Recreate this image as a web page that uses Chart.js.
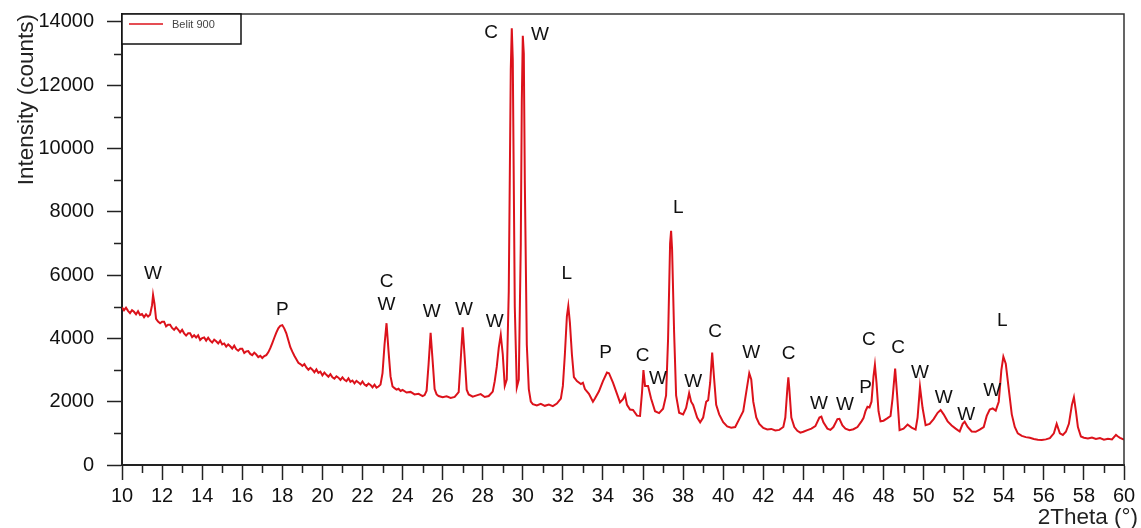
<!DOCTYPE html>
<html>
<head>
<meta charset="utf-8">
<script src="https://cdn.jsdelivr.net/npm/chart.js@4.4.1/dist/chart.umd.min.js"></script>
<style>
  html, body { margin: 0; padding: 0; background: #fff; }
  #wrap { width: 1141px; height: 528px; position: relative; }
</style>
</head>
<body>
<div id="wrap"><canvas id="xrdChart"></canvas></div>
<script>
// diffraction pattern (2theta in degrees, counts)
const twoTheta = [
  10.0, 10.1, 10.2, 10.3, 10.4, 10.5, 10.6, 10.7, 10.8, 10.9,
  11.0, 11.1, 11.2, 11.3, 11.4, 11.5, 11.55, 11.62, 11.7, 11.8, 11.9,
  12.0, 12.1, 12.2, 12.3, 12.4, 12.5, 12.6, 12.7, 12.8, 12.9,
  13.0, 13.1, 13.2, 13.3, 13.4, 13.5, 13.6, 13.7, 13.8, 13.9,
  14.0, 14.1, 14.2, 14.3, 14.4, 14.5, 14.6, 14.7, 14.8, 14.9,
  15.0, 15.1, 15.2, 15.3, 15.4, 15.5, 15.6, 15.7, 15.8, 15.9,
  16.0, 16.1, 16.2, 16.3, 16.4, 16.5, 16.6, 16.7, 16.8, 16.9,
  17.0, 17.1, 17.2, 17.3, 17.4, 17.5, 17.6, 17.7, 17.8, 17.9,
  18.0, 18.1, 18.2, 18.3, 18.4, 18.5, 18.6, 18.7, 18.8, 18.9,
  19.0, 19.1, 19.2, 19.3, 19.4, 19.5, 19.6, 19.7, 19.8, 19.9,
  20.0, 20.1, 20.2, 20.3, 20.4, 20.5, 20.6, 20.7, 20.8, 20.9,
  21.0, 21.1, 21.2, 21.3, 21.4, 21.5, 21.6, 21.7, 21.8, 21.9,
  22.0, 22.1, 22.2, 22.3, 22.4, 22.5, 22.6, 22.7, 22.8, 22.9,
  23.0, 23.1, 23.2, 23.3, 23.4, 23.5, 23.6, 23.7, 23.8, 23.9,
  24.0, 24.2, 24.4, 24.6, 24.8, 25.0, 25.1, 25.2, 25.3, 25.4,
  25.5, 25.6, 25.7, 25.8, 26.0, 26.2, 26.4, 26.6, 26.8, 26.9,
  27.0, 27.1, 27.2, 27.3, 27.5, 27.7, 27.9, 28.1, 28.3, 28.5,
  28.6, 28.7, 28.8, 28.9, 29.0, 29.1, 29.2, 29.3, 29.4, 29.45,
  29.5, 29.6, 29.7, 29.8, 29.9, 29.95, 30.0, 30.05, 30.1, 30.2,
  30.3, 30.4, 30.5, 30.7, 30.9, 31.1, 31.3, 31.5, 31.7, 31.9,
  32.0, 32.1, 32.2, 32.27, 32.35, 32.45, 32.55, 32.7, 32.9, 33.0,
  33.1, 33.3, 33.5, 33.6, 33.8, 34.0, 34.2, 34.3, 34.5, 34.7,
  34.85, 35.0, 35.1, 35.2, 35.35, 35.5, 35.7, 35.85, 35.95, 36.02,
  36.1, 36.25, 36.4, 36.6, 36.8, 37.0, 37.15, 37.25, 37.35, 37.4,
  37.45, 37.55, 37.65, 37.8, 38.0, 38.15, 38.3, 38.4, 38.5, 38.7,
  38.85, 39.0, 39.15, 39.25, 39.35, 39.45, 39.55, 39.65, 39.8, 40.0,
  40.2, 40.4, 40.6, 40.8, 41.0, 41.15, 41.3, 41.4, 41.5, 41.65,
  41.8, 42.0, 42.2, 42.4, 42.6, 42.8, 43.0, 43.1, 43.2, 43.25,
  43.3, 43.4, 43.55, 43.7, 43.85, 44.0, 44.2, 44.4, 44.6, 44.8,
  44.9, 45.0, 45.2, 45.35, 45.5, 45.7, 45.8, 45.95, 46.1, 46.3,
  46.5, 46.7, 46.9, 47.0, 47.1, 47.2, 47.3, 47.4, 47.5, 47.57,
  47.65, 47.75, 47.85, 48.0, 48.2, 48.35, 48.45, 48.58, 48.68, 48.8,
  49.0, 49.2, 49.4, 49.6, 49.7, 49.82, 49.95, 50.1, 50.3, 50.5,
  50.7, 50.85, 51.0, 51.2, 51.4, 51.6, 51.8, 51.95, 52.05, 52.2,
  52.4, 52.6, 52.8, 53.0, 53.15, 53.3, 53.45, 53.6, 53.75, 53.88,
  53.98, 54.1, 54.25, 54.4, 54.55, 54.7, 54.9, 55.1, 55.3, 55.5,
  55.7, 55.9, 56.1, 56.3, 56.5, 56.64, 56.8, 56.95, 57.1, 57.25,
  57.4, 57.5, 57.6, 57.7, 57.85, 58.0, 58.2, 58.4, 58.6, 58.8,
  59.0, 59.2, 59.4, 59.6, 59.7, 59.8, 60.0
];
const intensity = [
  4980, 4890, 4970, 4870, 4800, 4890, 4840, 4760, 4860, 4740,
  4770, 4670, 4760, 4690, 4750, 5050, 5370, 5100, 4620, 4530, 4480,
  4530, 4530, 4380, 4430, 4430, 4330, 4270, 4350, 4280, 4190,
  4270, 4160, 4090, 4160, 4160, 4040, 4100, 4030, 4100, 3950,
  4010, 4030, 3930, 4020, 3930, 3870, 3960, 3910, 3840, 3930,
  3810, 3840, 3740, 3810, 3750, 3680, 3770, 3660, 3610, 3670,
  3670, 3540, 3590, 3600, 3510, 3470, 3550, 3490, 3410, 3450,
  3380, 3440, 3470, 3560, 3690, 3850, 4020, 4180, 4320, 4400,
  4420, 4310, 4160, 3940, 3720, 3580, 3450, 3340, 3230, 3190,
  3130, 3190, 3080, 3010, 3070, 3010, 2930, 3020, 2910, 2950,
  2830, 2920, 2850, 2790, 2870, 2770, 2730, 2800, 2760, 2690,
  2770, 2690, 2650, 2740, 2630, 2670, 2580, 2660, 2610, 2550,
  2640, 2545, 2500, 2575, 2530, 2455, 2540, 2445, 2480, 2540,
  2900, 3800, 4480, 3600, 2800, 2480, 2430, 2380, 2410, 2340,
  2370, 2290, 2310, 2230, 2250, 2180, 2210, 2350, 3200, 4180,
  3300, 2400, 2230, 2180, 2140, 2170, 2120, 2150, 2300, 3300,
  4350, 3400, 2380, 2230, 2160, 2200, 2240, 2150, 2180, 2320,
  2650, 3100, 3700, 4110, 3500, 2500, 2700, 5500, 12500, 13800,
  12800, 5000, 2450, 2700, 7000, 11500, 13560, 13000, 9000, 3800,
  2400, 2000, 1920, 1880, 1930, 1870, 1910, 1860, 1940, 2100,
  2500, 3500, 4700, 5020, 4500, 3500, 2780, 2650, 2560, 2600,
  2400, 2250, 2000, 2100, 2330, 2650, 2920, 2900, 2600, 2250,
  1980, 2080, 2220, 1900, 1750, 1740, 1560, 1550, 2300, 3000,
  2500, 2500, 2100, 1700, 1640, 1780, 2200, 4000, 7000, 7400,
  6800, 4200, 2200, 1650, 1600, 1800, 2270, 2000, 1900, 1500,
  1350, 1500, 2000, 2050, 2600, 3550, 2700, 1900, 1600, 1350,
  1220, 1180, 1200, 1450, 1700, 2300, 2900, 2700, 2000, 1500,
  1300, 1170, 1120, 1140, 1090, 1110, 1200, 1500, 2400, 2770,
  2400, 1500, 1200, 1080, 1020, 1050, 1100, 1150, 1230, 1500,
  1530, 1350, 1150, 1110, 1200, 1450, 1460, 1250, 1150, 1100,
  1130, 1200, 1380, 1480, 1700, 1840, 1820, 2000, 2800, 3160,
  2600, 1700, 1380, 1400, 1480, 1550, 2100, 3050, 2200, 1100,
  1150, 1280, 1180, 1120, 1500, 2470, 1800, 1260, 1300, 1450,
  1650, 1740, 1600, 1380, 1250, 1150, 1060, 1300, 1370, 1200,
  1060, 1050, 1120, 1200, 1550, 1750, 1790, 1720, 2000, 3000,
  3420, 3200, 2400, 1600, 1200, 1000, 920, 880, 860, 820,
  800, 790, 810, 850, 1000, 1300, 1000, 950, 1050, 1300,
  1900, 2140, 1700, 1200, 900, 860, 840, 870, 820, 850,
  800, 830, 810, 950, 900, 860, 800
];

const xTickValues = [10, 12, 14, 16, 18, 20, 22, 24, 26, 28, 30, 32, 34, 36, 38, 40,
                     42, 44, 46, 48, 50, 52, 54, 56, 58, 60];
const yTickValues = [0, 2000, 4000, 6000, 8000, 10000, 12000, 14000];

// phase letters above the peaks: text, 2theta, counts of the letter centre
const peakText = ['W', 'P', 'C', 'W', 'W', 'W', 'W', 'C', 'W', 'L', 'P', 'C', 'W', 'L',
                  'W', 'C', 'W', 'C', 'W', 'W', 'P', 'C', 'C', 'W', 'W', 'W', 'W', 'L'];
const peakX = [11.55, 18.0, 23.2, 23.2, 25.45, 27.07, 28.6, 28.42, 30.86, 32.2, 34.13, 35.98, 36.74, 37.76,
               38.5, 39.6, 41.4, 43.27, 44.78, 46.08, 47.1, 47.27, 48.73, 49.82, 51.0, 52.13, 53.42, 53.93];
const peakY = [6030, 4900, 5800, 5060, 4840, 4900, 4530, 13660, 13600, 6050, 3560, 3460, 2730, 8130,
               2630, 4220, 3560, 3520, 1930, 1910, 2450, 3950, 3690, 2930, 2115, 1595, 2340, 4570];

const seriesName = 'Belit 900';
const lineColor = '#dc121b';
const FONT = '"Liberation Sans", Arial, sans-serif';

const points = twoTheta.map((t, i) => ({ x: t, y: intensity[i] }));

// minor ticks, frame, legend box, peak letters and axis titles
const decorations = {
    id: 'decorations',
    afterDraw(chart) {
        const ctx = chart.ctx;
        const area = chart.chartArea;
        const xs = chart.scales.x;
        const ys = chart.scales.y;
        ctx.save();

        // minor ticks
        ctx.strokeStyle = '#222';
        ctx.lineWidth = 1.5;
        ctx.beginPath();
        for (let i = 1; i < xTickValues.length; i++) {
            const px = Math.round(xs.getPixelForValue((xTickValues[i - 1] + xTickValues[i]) / 2)) + 0.5;
            ctx.moveTo(px, area.bottom);
            ctx.lineTo(px, area.bottom + 8);
        }
        for (let i = 1; i < yTickValues.length; i++) {
            const py = Math.round(ys.getPixelForValue((yTickValues[i - 1] + yTickValues[i]) / 2)) + 0.5;
            ctx.moveTo(area.left - 8, py);
            ctx.lineTo(area.left, py);
        }
        ctx.stroke();

        // top and right frame
        ctx.strokeStyle = '#333';
        ctx.lineWidth = 1.5;
        ctx.beginPath();
        ctx.moveTo(area.left, area.top);
        ctx.lineTo(area.right, area.top);
        ctx.lineTo(area.right, area.bottom);
        ctx.stroke();

        // legend box
        ctx.fillStyle = '#fff';
        ctx.fillRect(area.left, area.top, 119, 30);
        ctx.strokeStyle = '#111';
        ctx.lineWidth = 1.5;
        ctx.strokeRect(area.left, area.top, 119, 30);
        ctx.strokeStyle = lineColor;
        ctx.lineWidth = 1.5;
        ctx.beginPath();
        ctx.moveTo(area.left + 7, area.top + 10);
        ctx.lineTo(area.left + 41, area.top + 10);
        ctx.stroke();
        ctx.fillStyle = '#444';
        ctx.font = '11px ' + FONT;
        ctx.textAlign = 'left';
        ctx.textBaseline = 'middle';
        ctx.fillText(chart.data.datasets[0].label, area.left + 50, area.top + 11);

        // peak letters
        ctx.fillStyle = '#111';
        ctx.font = '19px ' + FONT;
        ctx.textAlign = 'center';
        ctx.textBaseline = 'middle';
        peakText.forEach((t, i) => {
            ctx.fillText(t, xs.getPixelForValue(peakX[i]), ys.getPixelForValue(peakY[i]));
        });

        // axis titles
        ctx.font = '22.5px ' + FONT;
        ctx.fillStyle = '#222';
        ctx.textAlign = 'right';
        ctx.textBaseline = 'alphabetic';
        ctx.fillText('2Theta (\u00b0)', 1138, 524);

        ctx.translate(33, area.top);
        ctx.rotate(-Math.PI / 2);
        ctx.textAlign = 'right';
        ctx.fillText('Intensity (counts)', 0, 0);
        ctx.restore();
    }
};

new Chart(document.getElementById('xrdChart'), {
    type: 'line',
    data: {
        datasets: [{
            label: seriesName,
            data: points,
            borderColor: lineColor,
            borderWidth: 2,
            pointRadius: 0,
            tension: 0,
            fill: false
        }]
    },
    options: {
        animation: false,
        responsive: true,
        maintainAspectRatio: false,
        layout: { padding: { left: 0, top: 14, right: 17, bottom: 0 } },
        plugins: {
            legend: { display: false },
            tooltip: { enabled: false }
        },
        scales: {
            x: {
                type: 'linear',
                min: 10,
                max: 60,
                afterBuildTicks: s => { s.ticks = xTickValues.map(v => ({ value: v })); },
                ticks: {
                    autoSkip: false,
                    maxRotation: 0,
                    padding: 4,
                    color: '#111',
                    font: { size: 20, family: FONT },
                    callback: v => String(v)
                },
                grid: { drawOnChartArea: false, tickLength: 15, tickWidth: 1.5, tickColor: '#222' },
                border: { color: '#222', width: 2 },
                afterFit: s => { s.height = 63; }
            },
            y: {
                min: 0,
                max: 14250,
                afterBuildTicks: s => { s.ticks = yTickValues.map(v => ({ value: v })); },
                ticks: {
                    autoSkip: false,
                    padding: 13,
                    color: '#111',
                    font: { size: 20, family: FONT },
                    callback: v => String(v)
                },
                grid: { drawOnChartArea: false, tickLength: 15, tickWidth: 1.5, tickColor: '#222' },
                border: { color: '#222', width: 2 },
                afterFit: s => {
                    s.width = 122;
                    s.paddingTop = 0;
                    s.paddingBottom = 0;
                }
            }
        }
    },
    plugins: [decorations]
});
</script>
</body>
</html>
